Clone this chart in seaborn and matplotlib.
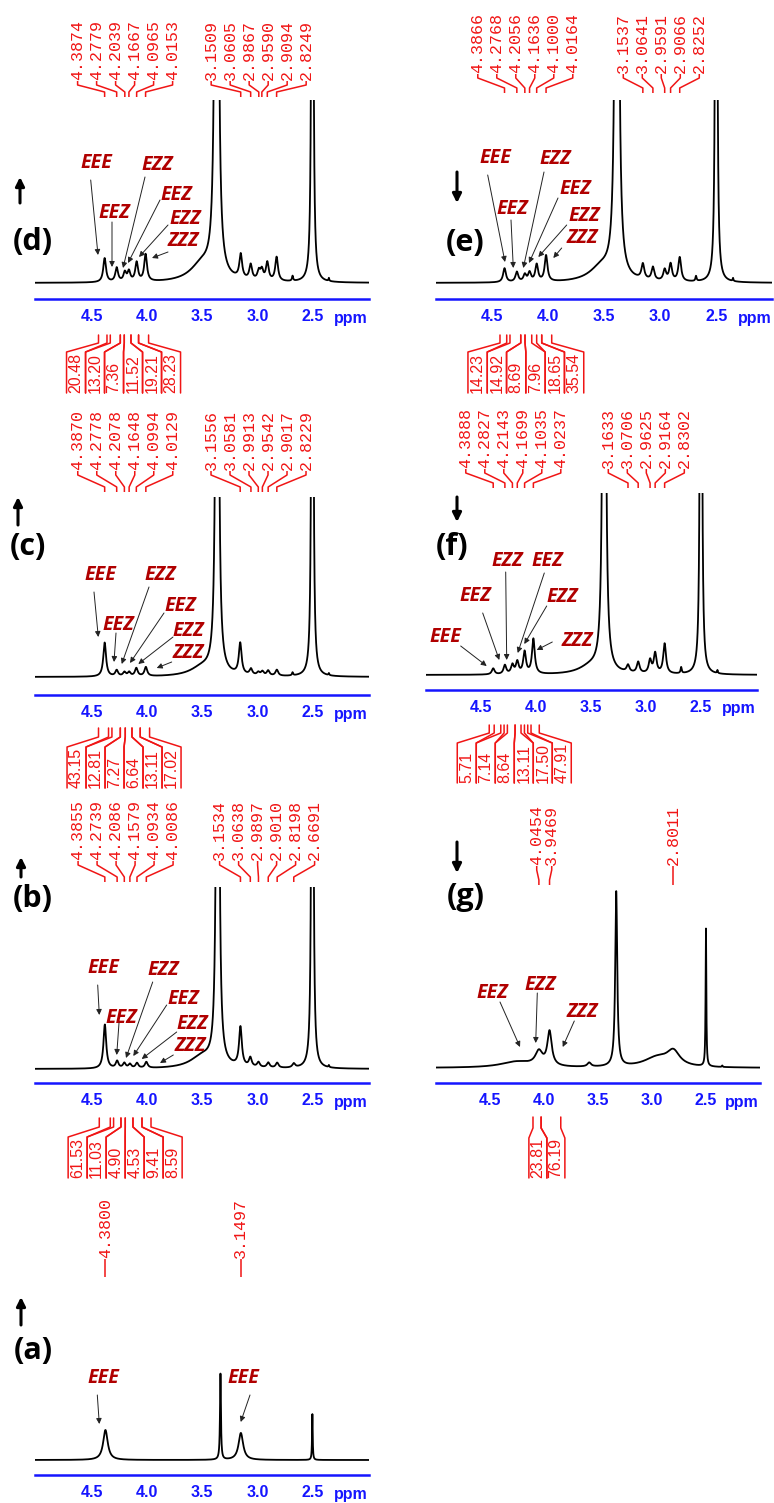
import numpy as np
import pandas as pd
import matplotlib
matplotlib.use("Agg")
import matplotlib.pyplot as plt
import seaborn as sns

W, H, DPI = 774, 1503, 100

# ---------------------------------------------------------------------------
# Peak lists: chemical shift (ppm), height above baseline, half width (ppm)
# ---------------------------------------------------------------------------
# (d)
d_shift_a = ["4.3874", "4.2779", "4.2039", "4.1667", "4.0965", "4.0153"]
d_height_a = [24, 14, 9, 10, 19, 27]
d_shift_b = ["3.1509", "3.0605", "2.9867", "2.9590", "2.9094", "2.8249"]
d_height_b = [24, 15, 9, 10, 18, 24]
d_other_ppm = [3.37, 3.50, 2.68, 2.50, 2.35]
d_other_height = [2300, 18, 5, 2500, 3]
d_other_width = [0.008, 0.13, 0.006, 0.004, 0.004]
d_integrals = ["20.48", "13.20", "7.36", "11.52", "19.21", "28.23"]
d_int_start = [4.443, 4.336, 4.245, 4.209, 4.148, 4.079]
d_int_end = [4.366, 4.245, 4.209, 4.148, 4.079, 3.988]

# (e)
e_shift_a = ["4.3866", "4.2768", "4.2056", "4.1636", "4.1000", "4.0164"]
e_height_a = [14, 10, 7, 9, 17, 26]
e_shift_b = ["3.1537", "3.0641", "2.9591", "2.9066", "2.8252"]
e_height_b = [15, 13, 11, 17, 24]
e_other_ppm = [3.385, 3.52, 2.68, 2.50, 2.35]
e_other_height = [2300, 15, 5, 2500, 3]
e_other_width = [0.008, 0.13, 0.006, 0.004, 0.004]
e_integrals = ["14.23", "14.92", "8.69", "7.96", "18.65", "35.54"]
e_int_start = [4.427, 4.338, 4.242, 4.204, 4.100, 4.055]
e_int_end = [4.367, 4.242, 4.204, 4.144, 4.055, 3.966]

# (c)
c_shift_a = ["4.3870", "4.2778", "4.2078", "4.1648", "4.0994", "4.0129"]
c_height_a = [34, 6, 4, 4, 8, 9]
c_shift_b = ["3.1556", "3.0581", "2.9913", "2.9542", "2.9017", "2.8229"]
c_height_b = [31, 6, 3, 4, 5, 6]
c_other_ppm = [3.365, 3.50, 2.68, 2.50, 2.35]
c_other_height = [1600, 9, 3, 2500, 2]
c_other_width = [0.008, 0.13, 0.006, 0.004, 0.004]
c_integrals = ["43.15", "12.81", "7.27", "6.64", "13.11", "17.02"]
c_int_start = [4.443, 4.321, 4.245, 4.200, 4.139, 4.064]
c_int_end = [4.352, 4.245, 4.200, 4.139, 4.064, 3.979]

# (f)
f_shift_a = ["4.3888", "4.2827", "4.2143", "4.1699", "4.1035", "4.0237"]
f_height_a = [6, 9, 9, 12, 22, 35]
f_shift_b = ["3.1633", "3.0706", "2.9625", "2.9164", "2.8302"]
f_height_b = [7, 11, 13, 20, 30]
f_other_ppm = [3.38, 3.50, 2.68, 2.50, 2.35]
f_other_height = [1600, 8, 6, 2500, 3]
f_other_width = [0.008, 0.13, 0.006, 0.004, 0.004]
f_integrals = ["5.71", "7.14", "8.64", "13.11", "17.50", "47.91"]
f_int_start = [4.425, 4.320, 4.260, 4.190, 4.105, 4.045]
f_int_end = [4.380, 4.290, 4.190, 4.136, 4.075, 3.970]

# (b)
b_shift_a = ["4.3855", "4.2739", "4.2086", "4.1579", "4.0934", "4.0086"]
b_height_a = [44, 7, 5, 4, 5, 6]
b_shift_b = ["3.1534", "3.0638", "2.9897", "2.9010", "2.8198", "2.6691"]
b_height_b = [39, 9, 5, 5, 5, 4]
b_other_ppm = [3.36, 3.50, 2.50, 2.35]
b_other_height = [1400, 12, 2500, 2]
b_other_width = [0.008, 0.13, 0.004, 0.004]
b_integrals = ["61.53", "11.03", "4.90", "4.53", "9.41", "8.59"]
b_int_start = [4.436, 4.306, 4.239, 4.200, 4.130, 4.048]
b_int_end = [4.336, 4.239, 4.200, 4.130, 4.048, 3.966]

# (g)
g_shift_a = ["4.0454", "3.9469"]
g_height_a = [14, 34]
g_width_a = [0.04, 0.024]
g_shift_b = ["2.8011"]
g_height_b = [14]
g_width_b = [0.07]
g_other_ppm = [4.25, 3.58, 3.33, 2.95, 2.50, 2.35]
g_other_height = [6, 4, 175, 10, 138, 1.5]
g_other_width = [0.18, 0.02, 0.011, 0.15, 0.004, 0.004]
g_integrals = ["23.81", "76.19"]
g_int_start = [4.100, 4.025]
g_int_end = [4.025, 3.843]

# (a)
a_shift = ["4.3800", "3.1497"]
a_height = [30, 27]
a_width = [0.025, 0.025]
a_other_ppm = [3.335, 2.50]
a_other_height = [86, 46]
a_other_width = [0.005, 0.0035]

TICK_LABELS = ["", "4.5", "4.0", "3.5", "3.0", "2.5", ""]
TICK_POS = [5.0, 4.5, 4.0, 3.5, 3.0, 2.5, 2.0]
MULTIPLET_WIDTH = 0.015

RED = "#f01515"
DARKRED = "#b00000"
BLUE = "#1515ff"

sns.set_style("white")
plt.rcParams["font.family"] = ["DejaVu Sans"]

fig = plt.figure(figsize=(W / DPI, H / DPI), dpi=DPI)
fig.patch.set_facecolor("white")

grid = np.linspace(5.1, 1.9, 5000)


def spectrum(ppm, height, width):
    y = np.zeros_like(grid)
    for p, h, w in zip(ppm, height, width):
        y += h * w * w / ((grid - p) ** 2 + w * w)
    return y


def make_panel(x0, x1, top, base, axis_y, xlim, ppm, height, width):
    ax = fig.add_axes([x0 / W, 1 - axis_y / H, (x1 - x0) / W, (axis_y - top) / H])
    ax.patch.set_alpha(0)
    df = pd.DataFrame({"ppm": grid, "I": spectrum(ppm, height, width)})
    sns.lineplot(data=df, x="ppm", y="I", ax=ax, color="black", linewidth=1.3,
                 sort=False, estimator=None)
    ax.set_xlim(*xlim)
    ax.set_ylim(-(axis_y - base), base - top)
    for s in ("top", "left", "right"):
        ax.spines[s].set_visible(False)
    ax.spines["bottom"].set_color(BLUE)
    ax.spines["bottom"].set_linewidth(1.8)
    ax.set_yticks([])
    ax.set_xticks(TICK_POS)
    ax.set_xticks(np.arange(2.0, 5.05, 0.1), minor=True)
    ax.set_xticklabels(TICK_LABELS)
    ax.tick_params(axis="x", which="major", direction="out", length=5, width=1.3,
                   color=BLUE, labelcolor=BLUE, pad=2)
    ax.tick_params(axis="x", which="minor", direction="out", length=2.5, width=1.0,
                   color=BLUE)
    for lab in ax.get_xticklabels():
        lab.set_fontfamily("Liberation Sans")
        lab.set_fontweight("bold")
        lab.set_fontsize(11.5)
    ax.set_xlabel("")
    ax.set_ylabel("")
    return ax


panels = {}


def pk(shifts, heights, w):
    return [float(s) for s in shifts], list(heights), [w] * len(shifts)


def build(name, x0, x1, top, base, axis_y, xlim, groups, others):
    ppm, hh, ww = [], [], []
    for g in groups:
        ppm += g[0]; hh += g[1]; ww += g[2]
    ppm += list(others[0]); hh += list(others[1]); ww += list(others[2])
    ax = make_panel(x0, x1, top, base, axis_y, xlim, ppm, hh, ww)
    panels[name] = (ax, axis_y)
    return ax


mw = MULTIPLET_WIDTH
ax_d = build("d", 35, 368.5, 100, 283, 299, (5.02, 1.99),
             [pk(d_shift_a, d_height_a, mw), pk(d_shift_b, d_height_b, mw)],
             (d_other_ppm, d_other_height, d_other_width))
ax_e = build("e", 435.7, 772.3, 100, 283, 299, (5.0, 2.0),
             [pk(e_shift_a, e_height_a, mw), pk(e_shift_b, e_height_b, mw)],
             (e_other_ppm, e_other_height, e_other_width))
ax_c = build("c", 35, 368.5, 497, 677, 695, (5.02, 1.99),
             [pk(c_shift_a, c_height_a, mw), pk(c_shift_b, c_height_b, mw)],
             (c_other_ppm, c_other_height, c_other_width))
ax_f = build("f", 426, 756.7, 493, 675, 690, (4.99, 1.993),
             [pk(f_shift_a, f_height_a, mw), pk(f_shift_b, f_height_b, mw)],
             (f_other_ppm, f_other_height, f_other_width))
ax_b = build("b", 35, 368.5, 887, 1069, 1083, (5.02, 1.99),
             [pk(b_shift_a, b_height_a, mw), pk(b_shift_b, b_height_b, mw)],
             (b_other_ppm, b_other_height, b_other_width))
ax_g = build("g", 435.7, 760, 885, 1068, 1083, (4.97, 2.007),
             [([float(s) for s in g_shift_a], g_height_a, g_width_a),
              ([float(s) for s in g_shift_b], g_height_b, g_width_b)],
             (g_other_ppm, g_other_height, g_other_width))
ax_a = build("a", 35, 368.5, 1365, 1460, 1475, (5.02, 1.99),
             [([float(s) for s in a_shift], a_height, a_width)],
             (a_other_ppm, a_other_height, a_other_width))

# transparent overlay in pixel coordinates (origin top-left) for annotations
ov = fig.add_axes([0, 0, 1, 1], zorder=10)
ov.set_xlim(0, W)
ov.set_ylim(H, 0)
ov.axis("off")
ov.patch.set_alpha(0)


def xpix(ax, ppm):
    return ax.transData.transform((ppm, 0))[0]


for name, (ax, ay) in panels.items():
    ov.text(ax.get_position().x1 * W - 1, ay + 19, "ppm", ha="right", va="center",
            color=BLUE, fontsize=11.5, fontweight="bold", family="Liberation Sans")


def shift_labels(ax, shifts, text_bottom, lead_bottom, spacing=19):
    xs = [xpix(ax, float(s)) for s in shifts]
    c = (min(xs) + max(xs)) / 2
    n = len(xs)
    for i, (s, px) in enumerate(zip(shifts, xs)):
        lx = c + (i - (n - 1) / 2) * spacing
        ov.plot([lx, lx, px, px],
                [text_bottom + 1, text_bottom + 5, lead_bottom - 5, lead_bottom],
                color=RED, lw=1.1, solid_capstyle="butt")
        ov.text(lx, text_bottom, s, rotation=90, ha="center", va="bottom",
                family="Liberation Mono", fontsize=12, color=RED)


def integral_marks(ax, starts, ends, labels, y_top, y_b1, y_b2, y_bot, spacing=19):
    xs_s = [xpix(ax, v) for v in starts]
    xs_e = [xpix(ax, v) for v in ends]
    allx = xs_s + xs_e
    c = (min(allx) + max(allx)) / 2
    n = len(labels)
    seps = [c + (i - n / 2) * spacing for i in range(n + 1)]
    for i in range(n):
        for xe, sx in ((xs_s[i], seps[i]), (xs_e[i], seps[i + 1])):
            ov.plot([xe, xe, sx, sx], [y_top, y_b1, y_b2, y_bot], color=RED, lw=1.1)
        ov.text((seps[i] + seps[i + 1]) / 2, y_bot, labels[i], rotation=90,
                ha="center", va="bottom", family="Liberation Sans", fontsize=11.5,
                color=RED)


shift_labels(ax_d, d_shift_a, 80, 97)
shift_labels(ax_d, d_shift_b, 80, 97)
shift_labels(ax_e, e_shift_a, 73, 93)
shift_labels(ax_e, e_shift_b, 73, 93)
shift_labels(ax_c, c_shift_a, 470, 492)
shift_labels(ax_c, c_shift_b, 470, 492)
shift_labels(ax_f, f_shift_a, 468, 488)
shift_labels(ax_f, f_shift_b, 468, 488)
shift_labels(ax_b, b_shift_a, 860, 882)
shift_labels(ax_b, b_shift_b, 860, 882)
shift_labels(ax_g, g_shift_a, 865, 885, spacing=15)
shift_labels(ax_g, g_shift_b, 865, 885)
shift_labels(ax_a, a_shift[:1], 1258, 1277)
shift_labels(ax_a, a_shift[1:], 1258, 1277)

integral_marks(ax_d, d_int_start, d_int_end, d_integrals, 335, 343, 352, 393)
integral_marks(ax_e, e_int_start, e_int_end, e_integrals, 335, 343, 352, 393, spacing=19.3)
integral_marks(ax_c, c_int_start, c_int_end, c_integrals, 728, 737, 747, 788)
integral_marks(ax_f, f_int_start, f_int_end, f_integrals, 725, 733, 743, 783)
integral_marks(ax_b, b_int_start, b_int_end, b_integrals, 1118, 1127, 1137, 1178)
integral_marks(ax_g, g_int_start, g_int_end, g_integrals, 1117, 1128, 1138, 1178, spacing=18)

# isomer labels with pointer arrows: text, text centre, arrow tail, arrow head (pixels)
notes = [
    ("EEE", 96, 163, 90.7, 180, 98, 255),
    ("EEZ", 114, 213, 112, 222, 112, 267),
    ("EZZ", 157, 165, 145, 177, 123, 268),
    ("EEZ", 176, 195, 160, 200, 128, 263),
    ("EZZ", 185, 219, 168, 225, 139, 257),
    ("ZZZ", 183, 241, 168, 252, 152, 258),
    ("EEE", 495, 158, 487.7, 175, 505, 262),
    ("EEZ", 512, 209, 511, 220, 513.3, 268),
    ("EZZ", 555, 159, 544, 172, 523.3, 268),
    ("EEZ", 575, 189, 558, 198, 529, 263),
    ("EZZ", 584, 216, 566.7, 225, 538.3, 257),
    ("ZZZ", 582, 238, 561.7, 248, 553.3, 258),
    ("EEE", 100, 575, 94, 592, 98.3, 637),
    ("EEZ", 118, 625, 116, 633, 114, 662),
    ("EZZ", 160, 575, 149, 587, 121.7, 664),
    ("EEZ", 180, 606, 164, 613, 130, 663),
    ("EZZ", 188, 631, 173, 637, 138.3, 664),
    ("ZZZ", 188, 653, 171.7, 662, 156.7, 668),
    ("EEE", 445, 637, 460.7, 646, 486.7, 666),
    ("EEZ", 475, 596, 482.7, 613, 499.3, 660),
    ("EZZ", 507, 561, 505.7, 572, 506.7, 660),
    ("EEZ", 547, 561, 544.3, 573, 517.7, 653),
    ("EZZ", 562, 597, 546.7, 606, 524.3, 644),
    ("ZZZ", 577, 641, 552.3, 642, 536.7, 650),
    ("EEE", 103, 968, 97.7, 985, 99.3, 1015),
    ("EEZ", 121, 1018, 119, 1023, 116.7, 1055),
    ("EZZ", 163, 970, 152.7, 982, 126, 1058),
    ("EEZ", 183, 999, 166.7, 1005, 133.3, 1056),
    ("EZZ", 192, 1024, 176.7, 1032, 141.7, 1059),
    ("ZZZ", 190, 1046, 173.3, 1055, 160, 1063),
    ("EEZ", 492, 993, 500, 1002, 520, 1047),
    ("EZZ", 540, 985, 537.3, 993, 535.7, 1043),
    ("ZZZ", 582, 1012, 574.3, 1021, 562.7, 1047),
    ("EEE", 103, 1378, 97.3, 1395, 99.3, 1424),
    ("EEE", 243, 1378, 250, 1395, 240.7, 1422),
]
for txt, tx, ty, ax_, ay_, hx, hy in notes:
    ov.text(tx, ty, txt, ha="center", va="center", color=DARKRED, fontsize=14,
            fontweight="bold", fontstyle="italic", family=["Open Sans", "DejaVu Sans"])
    ov.annotate("", xy=(hx, hy), xytext=(ax_, ay_),
                arrowprops=dict(arrowstyle="-|>", color="#222222", lw=0.7,
                                mutation_scale=8, shrinkA=0, shrinkB=0))

# panel letters with direction arrows
letters = [
    ("(d)", 33, 242, 20, 203, 177),
    ("(e)", 465, 243, 457, 172, 203),
    ("(c)", 28, 547, 18, 525, 497),
    ("(f)", 452, 547, 457, 497, 522),
    ("(b)", 33, 899, 21, 877, 857),
    ("(g)", 466, 897, 457, 842, 873),
    ("(a)", 33, 1351, 21, 1325, 1297),
]
for txt, cx, cy, axx, y_from, y_to in letters:
    ov.text(cx, cy, txt, ha="center", va="center", fontsize=22, fontweight="bold",
            family=["Open Sans", "DejaVu Sans"], color="black")
    ov.annotate("", xy=(axx, y_to), xytext=(axx, y_from),
                arrowprops=dict(arrowstyle="-|>", color="black", lw=2.2,
                                mutation_scale=13, shrinkA=0, shrinkB=0))

fig.savefig("out.png", dpi=DPI, facecolor="white")
